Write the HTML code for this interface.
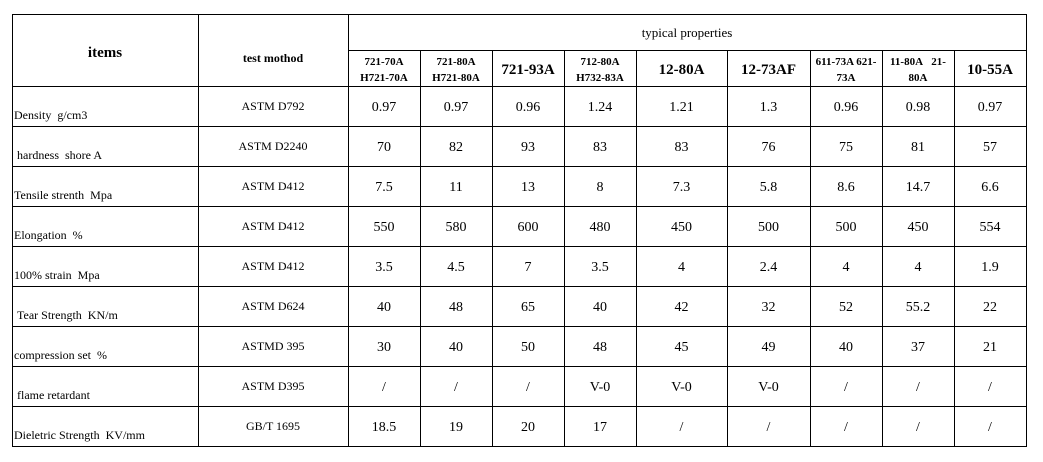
<!DOCTYPE html>
<html><head><meta charset="utf-8"><style>
body{margin:0;width:1043px;height:462px;background:#fff;position:relative;overflow:hidden;font-family:"Liberation Serif",serif;color:#000}
.c{position:absolute;text-align:center;white-space:nowrap}
.l{position:absolute;background:#000}
</style></head><body>
<div id="t"></div>
<script>
var cols=[12,198,348,420,492,564,636,727,810,882,954,1026];
var rowTops=[86,126,166,206,246,286,326,366,406,446];
var heads=[["721-70A","H721-70A"],["721-80A","H721-80A"],["721-93A"],["712-80A","H732-83A"],["12-80A"],["12-73AF"],["611-73A 621-","73A"],["11-80A&nbsp;&nbsp;&nbsp;21-","80A"],["10-55A"]];
var items=["Density&nbsp; g/cm3","&nbsp;hardness&nbsp; shore A","Tensile strenth&nbsp; Mpa","Elongation&nbsp; %","100% strain&nbsp; Mpa","&nbsp;Tear Strength&nbsp; KN/m","compression set&nbsp; %","&nbsp;flame retardant","Dieletric Strength&nbsp; KV/mm"];
var methods=["ASTM D792","ASTM D2240","ASTM D412","ASTM D412","ASTM D412","ASTM D624","ASTMD 395","ASTM D395","GB/T 1695"];
var vals=[["0.97","0.97","0.96","1.24","1.21","1.3","0.96","0.98","0.97"],["70","82","93","83","83","76","75","81","57"],["7.5","11","13","8","7.3","5.8","8.6","14.7","6.6"],["550","580","600","480","450","500","500","450","554"],["3.5","4.5","7","3.5","4","2.4","4","4","1.9"],["40","48","65","40","42","32","52","55.2","22"],["30","40","50","48","45","49","40","37","21"],["/","/","/","V-0","V-0","V-0","/","/","/"],["18.5","19","20","17","/","/","/","/","/"]];
var T=document.getElementById('t');
function cell(x,y,w,h,html,st,name){var d=document.createElement('div');d.className='c';


d.style.cssText='left:'+x+'px;top:'+y+'px;width:'+w+'px;height:'+h+'px;'+st;d.innerHTML=html;T.appendChild(d);}
function line(x,y,w,h){var d=document.createElement('div');d.className='l';


d.style.cssText='left:'+x+'px;top:'+y+'px;width:'+w+'px;height:'+h+'px';T.appendChild(d);}
line(12,14,1015,1);line(348,50,679,1);
rowTops.forEach(function(y){line(12,y,1015,1);});
[12,198,348,1026].forEach(function(x){line(x,14,1,433);});
cols.slice(3,11).forEach(function(x){line(x,50,1,397);});
cell(12,43,186,20,'items','font-weight:bold;font-size:15px;line-height:20px','items-header');
cell(198,50,150,16,'test mothod','font-weight:bold;font-size:12px;line-height:16px','test-method-header');
cell(348,24,678,18,'typical properties','font-size:13px;line-height:18px','typical-properties-header');
heads.forEach(function(h,i){var x=cols[i+2],w=cols[i+3]-x;
if(h.length==1)cell(x,60,w,20,h[0],'font-weight:bold;font-size:15px;line-height:20px','grade-header');
else cell(x,55,w,32,h.join('<br>'),'font-weight:bold;font-size:11px;line-height:15.5px','grade-header');});
for(var r=0;r<9;r++){var y=rowTops[r];
cell(14,y+21,184,16,items[r],'text-align:left;font-size:12px;line-height:16px','item-label');
cell(198,y+12,150,16,methods[r],'font-size:12px;line-height:16px','test-method');
for(var c=0;c<9;c++){var x=cols[c+2];cell(x,y+13,cols[c+3]-x,18,vals[r][c],'font-size:14px;line-height:18px','value-cell');}}
</script>
</body></html>
